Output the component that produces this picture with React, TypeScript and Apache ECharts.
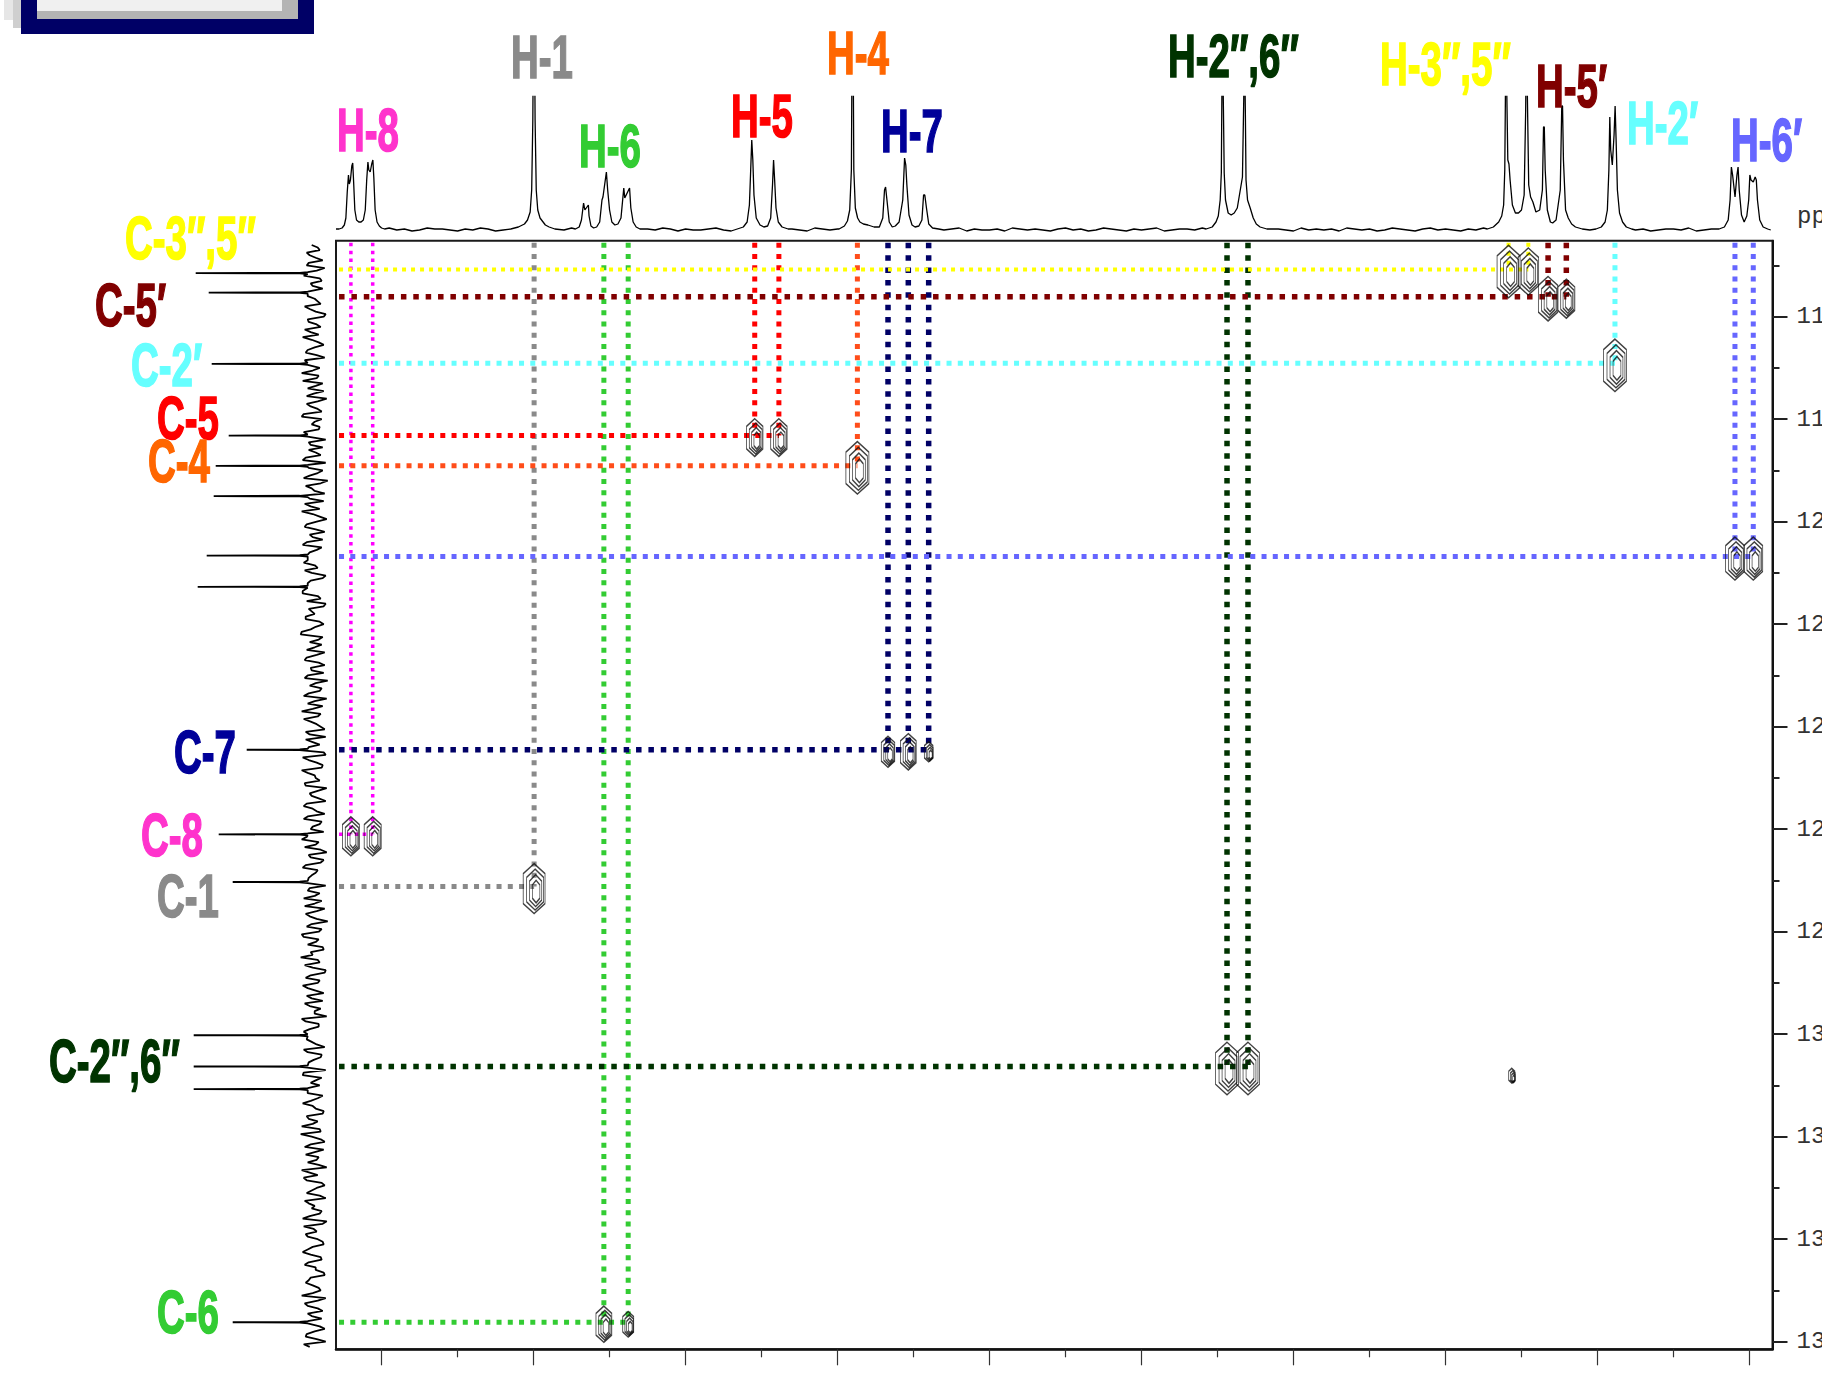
import React, { useEffect, useRef } from "react";
import * as echarts from "echarts";

// ---- axis ranges (ppm) ----
const H_LEFT = 8.06;
const H_RIGHT = 6.1697;
const C_TOP = 114.517;
const C_BOTTOM = 136.148;

// ---- tick values ----
const hMajorTicks = [8.0, 7.8, 7.6, 7.4, 7.2, 7.0, 6.8, 6.6, 6.4, 6.2];
const hMinorTicks = [7.9, 7.7, 7.5, 7.3, 7.1, 6.9, 6.7, 6.5, 6.3];
const cMajorTicks = [116, 118, 120, 122, 124, 126, 128, 130, 132, 134, 136];
const cMinorTicks = [115, 117, 119, 121, 123, 125, 127, 129, 131, 133, 135];

// ---- assignments ----
const protonLabels = ["H-8", "H-1", "H-6", "H-5", "H-4", "H-7", "H-2″,6″", "H-3″,5″", "H-5′", "H-2′", "H-6′"];
const carbonLabels = ["C-8", "C-1", "C-6", "C-5", "C-4", "C-7", "C-2″,6″", "C-3″,5″", "C-5′", "C-2′", ""];
const protonShifts = [
  [8.0404, 8.0117],
  [7.7993],
  [7.7075, 7.6755],
  [7.509, 7.4772],
  [7.3739],
  [7.3336, 7.3069, 7.2801],
  [6.8875, 6.8599],
  [6.517, 6.491],
  [6.465, 6.441],
  [6.377],
  [6.2191, 6.195],
];
const carbonShifts = [126.1, 127.12, 135.62, 118.32, 118.91, 124.45, 130.63, 115.08, 115.61, 116.91, 120.68];
const crossStrength = [[2, 2], [2.8], [1.8, 1], [1.9, 1.9], [3], [1.4, 1.8, 0.6], [3, 3], [3, 2.6], [2.4, 2], [3], [2.3, 2.3]];
const extraCrossPeaks = [[6.5128, 130.77, 0.2]];

// ---- 1H projection (top), [ppm, intensity] ----
const topH8 = [[8.056,1],[8.052,2],[8.049,5],[8.047,12],[8.0452,38],[8.0436,55],[8.0425,46],[8.041,50],[8.0392,64],[8.038,67],[8.0368,48],[8.0352,20],[8.033,10],[8.03,8],[8.027,8],[8.024,10],[8.0215,20],[8.0196,50],[8.018,68],[8.0168,60],[8.015,58],[8.013,66],[8.0115,70],[8.0102,52],[8.0085,20],[8.006,8],[8.003,4],[8.0,2],[7.996,1]];
const topH1 = [[7.83,1],[7.82,3],[7.812,6],[7.808,10],[7.8045,18],[7.8025,40],[7.801,110],[7.8002,200],[7.7988,200],[7.798,110],[7.7965,40],[7.7945,20],[7.7915,12],[7.7885,9],[7.7845,5],[7.7795,3],[7.772,1]];
const topH6 = [[7.745,1],[7.74,3],[7.737,10],[7.7342,27],[7.7325,20],[7.7279,25],[7.727,14],[7.7245,4],[7.721,2],[7.717,3],[7.713,8],[7.71,30],[7.7087,33],[7.7042,58],[7.7025,40],[7.7,20],[7.697,8],[7.693,5],[7.689,6],[7.685,12],[7.6813,42],[7.68,32],[7.6737,42],[7.672,22],[7.669,8],[7.665,3],[7.66,1]];
const topH5 = [[7.532,1],[7.524,3],[7.519,8],[7.516,25],[7.5143,60],[7.5129,90],[7.5115,70],[7.51,35],[7.507,12],[7.502,5],[7.497,3],[7.492,4],[7.488,12],[7.4856,45],[7.4842,70],[7.4828,50],[7.481,22],[7.478,8],[7.473,3],[7.465,1]];
const topH4H7 = [[7.398,1],[7.391,4],[7.387,9],[7.384,20],[7.3818,60],[7.3808,200],[7.3796,200],[7.3786,60],[7.3766,22],[7.3736,12],[7.3706,8],[7.366,6],[7.36,5],[7.352,3],[7.345,3],[7.3405,12],[7.3382,40],[7.3368,43],[7.335,30],[7.332,8],[7.328,3],[7.324,4],[7.319,8],[7.3142,30],[7.3118,72],[7.3102,65],[7.3088,45],[7.306,15],[7.302,5],[7.298,3],[7.293,4],[7.289,10],[7.2868,35],[7.2852,35],[7.283,22],[7.28,6],[7.275,2],[7.267,1]];
const topH26pp = [[6.915,1],[6.907,3],[6.902,8],[6.899,14],[6.8965,30],[6.895,57],[6.8943,130],[6.8937,200],[6.893,200],[6.8922,120],[6.8912,57],[6.8895,30],[6.886,17],[6.882,15],[6.878,17],[6.874,22],[6.8672,53],[6.8655,130],[6.8648,200],[6.8641,200],[6.8634,120],[6.8625,50],[6.8605,30],[6.857,22],[6.853,12],[6.849,6],[6.844,3],[6.835,1]];
const topH35ppH5p = [[6.545,1],[6.537,3],[6.53,8],[6.526,14],[6.5235,25],[6.522,60],[6.5212,130],[6.5206,200],[6.5198,200],[6.519,120],[6.518,70],[6.5165,66],[6.515,50],[6.512,25],[6.508,17],[6.504,17],[6.5,20],[6.4965,35],[6.4945,120],[6.4935,200],[6.4928,200],[6.4918,110],[6.4905,45],[6.488,33],[6.485,28],[6.481,18],[6.476,20],[6.4725,40],[6.471,103],[6.47,103],[6.4688,60],[6.466,20],[6.462,8],[6.459,7],[6.4545,10],[6.449,40],[6.447,124],[6.446,124],[6.4448,70],[6.442,20],[6.4385,12],[6.434,6],[6.429,3],[6.42,1]];
const topH2p = [[6.402,1],[6.395,3],[6.39,8],[6.387,20],[6.385,60],[6.3838,113],[6.3826,80],[6.3805,65],[6.3782,95],[6.3768,124],[6.3755,90],[6.3738,40],[6.371,17],[6.367,8],[6.362,3],[6.355,1]];
const topH6p = [[6.24,1],[6.233,3],[6.228,10],[6.2255,30],[6.2238,63],[6.2222,55],[6.219,33],[6.2165,55],[6.215,63],[6.2135,40],[6.2105,15],[6.207,8],[6.2035,14],[6.201,30],[6.1995,55],[6.198,50],[6.195,48],[6.1925,53],[6.191,50],[6.1895,30],[6.1865,10],[6.182,3],[6.176,1],[6.172,0]];
const topBaseline = [
  1,0,2,1,0,-1,1,2,0,1,-1,0,2,1,1,0,-1,1,0,2,
  1,-1,0,1,2,0,1,-1,1,0,0,2,1,-1,0,1,1,0,2,-1,
  0,1,0,2,1,-1,1,0,0,1,2,0,-1,1,0,1,-1,2,0,1,
  1,0,-1,2,1,0,1,-1,0,2,0,1,1,-1,0,1,2,0,-1,1,
  0,1,2,-1,1,0,0,1,-1,2,1,0,1,0,-1,1,2,0,1,-1,
  0,2,1,0,-1,1,0,1,2,-1,0,1,1,0,2,-1,1,0,0,1,
  2,-1,0,1,1,0,-1,2,0,1,0,1,-1,2,1,0,1,-1,0,2,
  1,0,-1,1,2,0,1,0,-1,1,0,2,1,-1,0,1,1,0,2,-1,
  0,1,-1,2,1,0,1,0,-1,1,2,0,1,-1,0,1,1,0,2,-1,
  0,1,2,-1,1,0,1,-1,0,1,
];
const topBaselineStart = 8.06;
const topBaselineStep = 0.01;

// ---- 13C projection (left) ----
const carbonNoise = [
  2,-6,4,-9,7,-3,10,-8,1,-12,6,-4,9,-2,-10,5,-7,3,11,-5,
  -1,8,-11,4,-6,12,-3,-9,6,0,-13,7,-4,10,-8,2,-5,9,-12,3,
  5,-7,11,-2,-9,4,-14,8,-1,6,-10,3,12,-6,-3,9,-11,1,7,-8,
  4,-13,10,-4,2,-9,6,-2,11,-7,-12,5,-1,8,-10,3,13,-5,-8,7,
  -3,9,-11,2,6,-14,4,-6,10,-1,-9,12,-4,3,-7,8,-12,1,5,-10,
  11,-3,-8,6,-2,9,-13,4,-5,7,1,-11,10,-6,3,-9,12,-2,-7,5,
  -10,8,-4,2,11,-12,6,-1,-8,9,-3,4,-14,7,-5,10,-2,-9,3,13,
  -6,1,-11,8,-4,6,-10,2,9,-7,-1,12,-5,4,-13,7,-3,10,-8,0,
  5,-12,11,-2,-6,8,-9,3,1,-10,7,-4,12,-7,2,-11,9,-1,-5,6,
  -13,4,10,-8,-3,7,-12,5,2,-6,11,-9,0,8,-4,-10,6,3,-8,9,
  -2,-11,5,1,-7,12,-4,6,-9,2,10,-6,-1,8,-12,4,
];
const carbonNoiseMid = [
  -4,7,-2,5,-11,8,-6,3,-9,10,-1,-7,4,-12,6,-3,9,-5,2,-10,
  6,-3,9,-8,1,-5,11,-2,-10,7,-4,3,-8,12,-1,-6,10,-3,5,-9,
  -2,8,-12,5,-4,10,-7,2,-11,4,9,-6,1,-13,7,-2,4,-9,11,-3,
  -8,6,-1,9,-12,3,-5,11,-4,7,-10,2,8,-6,-2,12,-9,4,-1,-11,
  7,-5,3,-10,9,-2,-8,5,-13,6,1,-7,10,-3,-11,4,8,-6,2,-12,
  5,-9,12,-1,-6,8,-4,2,-12,10,-3,6,-8,1,-10,7,-5,9,-13,3,
  -7,11,-2,5,-9,4,-6,10,-1,-11,8,-3,2,-8,12,-5,6,-10,1,-4,
  9,-12,3,-6,11,-2,7,-9,4,-1,-13,8,-5,10,-3,2,-11,6,-7,5,
  -1,10,-8,3,-12,6,-4,11,-2,-9,5,1,-6,13,-7,3,-10,8,-3,-5,
  12,-4,7,-11,2,-6,9,-1,-8,4,-13,10,-3,6,-9,1,11,-7,5,-2,
  -10,3,8,-5,1,-12,9,-4,6,-8,2,-11,7,-3,10,
];
const carbonNoiseStart = 114.6;
const carbonNoiseMidStart = 114.65;
const carbonNoiseStep = 0.1;
const carbonSpikes = [[115.15,118],[115.53,105],[116.92,102],[118.32,85],[118.91,98],[119.5,100],[120.66,107],[121.27,116],[124.45,67],[126.1,95],[127.03,81],[130.02,120],[130.63,120],[131.07,120],[135.62,81]];

// ---- styles / layout ----
const labelColors = ["#ff33cc", "#8a8a8a", "#33cc33", "#ff0000", "#ff6600", "#000099", "#003300", "#ffff00", "#800000", "#66ffff", "#6666ff"];
const lineColors = ["#ff00ff", "#8a8a8a", "#33cc33", "#ff0000", "#ff4d1a", "#000066", "#003300", "#ffff00", "#800000", "#66ffff", "#6666ff"];
const lineWidths = [3.5, 5, 5, 5, 5, 5.5, 5.5, 4, 5.5, 5, 5];
const protonLabelPos = [[337,129],[511,56],[579,145],[731,115],[827,52],[881,130],[1168,55],[1380,63],[1536,85],[1627,122],[1731,139]];
const carbonLabelPos = [[141,834],[157,895],[157,1311],[157,417],[148,460],[174,751],[49,1060],[125,237],[95,304],[131,364],[0,0]];

const HEX = "path://M5,0L10,4L10,16L5,20L0,16L0,4Z";
const LABEL_FONT = 'bold 62px "Liberation Sans", Arial, sans-serif';

export default function App() {
  const ref = useRef<HTMLDivElement>(null);

  useEffect(() => {
    document.body.style.margin = "0";
    const chart = echarts.init(ref.current!, null, { renderer: "svg" });

    // top trace
    const groups = [topH8, topH1, topH6, topH5, topH4H7, topH26pp, topH35ppH5p, topH2p, topH6p];
    const ranges = groups.map((g) => [Math.min(...g.map((p) => p[0])), Math.max(...g.map((p) => p[0]))]);
    const topTrace: number[][] = [];
    topBaseline.forEach((n, i) => {
      const v = topBaselineStart - i * topBaselineStep;
      if (!ranges.some(([a, b]) => v >= a - 0.002 && v <= b + 0.002)) topTrace.push([v, n]);
    });
    groups.forEach((g) => g.forEach((p) => topTrace.push(p)));
    topTrace.sort((a, b) => b[0] - a[0]);

    // left trace
    const leftTrace: number[][] = [];
    const addNoise = (arr: number[], start: number) =>
      arr.forEach((n, i) => {
        const c = start + i * carbonNoiseStep;
        if (!carbonSpikes.some(([s]) => Math.abs(c - s) < 0.04)) leftTrace.push([n, c]);
      });
    addNoise(carbonNoise, carbonNoiseStart);
    addNoise(carbonNoiseMid, carbonNoiseMidStart);
    carbonSpikes.forEach(([s, h]) => {
      leftTrace.push([6, s - 0.02], [14, s - 0.006], [h, s], [14, s + 0.006], [6, s + 0.02]);
    });
    leftTrace.sort((a, b) => a[1] - b[1]);

    // dotted correlation lines
    const mkLine = (data: number[][], color: string, width: number) => ({
      type: "line",
      xAxisIndex: 0,
      yAxisIndex: 0,
      data,
      symbol: "none",
      silent: true,
      z: 3,
      lineStyle: { color, width, type: [width, width * 1.25] },
    });
    const dotted: any[] = [];
    protonShifts.forEach((hs, g) => {
      const c = carbonShifts[g];
      hs.forEach((h) => dotted.push(mkLine([[h, C_TOP + 0.04], [h, c]], lineColors[g], lineWidths[g])));
      dotted.push(mkLine([[H_LEFT - 0.004, c], [Math.min(...hs), c]], lineColors[g], lineWidths[g]));
    });

    // cross peaks (contours)
    const peaks: number[][] = [];
    protonShifts.forEach((hs, g) => hs.forEach((h, i) => peaks.push([h, carbonShifts[g], crossStrength[g][i]])));
    extraCrossPeaks.forEach((p) => peaks.push(p));
    const levels: [number, number, number[]][] = [
      [1, 1, [0, 2]],
      [0.78, 0.82, [1, 3]],
      [0.56, 0.64, [1.5, 4]],
      [0.34, 0.45, [2, 5]],
    ];
    const contours = levels.map(([fx, fy, off]) => ({
      type: "scatter",
      xAxisIndex: 0,
      yAxisIndex: 0,
      data: peaks,
      symbol: HEX,
      symbolSize: (v: number[]) => [(5 + 6 * v[2]) * fx, (12 + 13.5 * v[2]) * fy],
      symbolOffset: off,
      silent: true,
      z: 4,
      itemStyle: { color: "rgba(0,0,0,0)", borderColor: "#111", borderWidth: 1.2 },
    }));

    // graphics: labels + corner box
    const graphics: any[] = [
      { type: "rect", shape: { x: 4, y: 0, width: 9, height: 20 }, style: { fill: "#e6e6e6" } },
      { type: "rect", shape: { x: 13, y: 0, width: 8, height: 28 }, style: { fill: "#cfcfcf" } },
      { type: "rect", shape: { x: 21, y: 0, width: 293, height: 34 }, style: { fill: "#000066" } },
      { type: "rect", shape: { x: 37, y: 0, width: 261, height: 19 }, style: { fill: "#b4b4b4" } },
      { type: "rect", shape: { x: 37, y: 0, width: 245, height: 11 }, style: { fill: "#f0f0f0" } },
      {
        type: "text", x: 1797, y: 216,
        style: { text: "ppm", fill: "#333", font: '24px "Liberation Mono", monospace', textAlign: "left", textVerticalAlign: "middle", align: "left", verticalAlign: "middle" },
      },
    ];
    const mkLabel = (text: string, pos: number[], color: string) => ({
      type: "text",
      x: pos[0],
      y: pos[1],
      scaleX: 0.62,
      z: 10,
      style: {
        text, fill: color, stroke: color, lineWidth: 1.6, font: LABEL_FONT,
        textAlign: "left", textVerticalAlign: "middle", align: "left", verticalAlign: "middle",
      },
    });
    protonLabels.forEach((t, i) => graphics.push(mkLabel(t, protonLabelPos[i], labelColors[i])));
    carbonLabels.forEach((t, i) => { if (t) graphics.push(mkLabel(t, carbonLabelPos[i], labelColors[i])); });

    const option: any = {
      animation: false,
      backgroundColor: "#ffffff",
      grid: [
        { left: 336, top: 240.7, width: 1436.5, height: 1108.6, show: true, borderColor: "#1a1a1a", borderWidth: 2, backgroundColor: "transparent", containLabel: false, outerBoundsMode: "none" },
        { left: 336, top: 96.5, width: 1436.5, height: 139.5, containLabel: false, outerBoundsMode: "none" },
        { left: 186, top: 240.7, width: 150, height: 1108.6, containLabel: false, outerBoundsMode: "none" },
      ],
      xAxis: [
        {
          gridIndex: 0, type: "value", min: H_RIGHT, max: H_LEFT, inverse: true, position: "bottom",
          axisLine: { show: true, onZero: false, lineStyle: { color: "#111", width: 2.5 } },
          axisTick: { show: true, customValues: hMajorTicks, length: 16, lineStyle: { color: "#333", width: 1.2 } },
          axisLabel: { show: false }, splitLine: { show: false },
        },
        {
          gridIndex: 0, type: "value", min: H_RIGHT, max: H_LEFT, inverse: true, position: "bottom",
          axisLine: { show: false, onZero: false },
          axisTick: { show: true, customValues: hMinorTicks, length: 8, lineStyle: { color: "#333", width: 1.2 } },
          axisLabel: { show: false }, splitLine: { show: false },
        },
        { gridIndex: 1, type: "value", min: H_RIGHT, max: H_LEFT, inverse: true, show: false },
        { gridIndex: 2, type: "value", min: -22.3, max: 127.7, inverse: true, show: false },
      ],
      yAxis: [
        {
          gridIndex: 0, type: "value", min: C_TOP, max: C_BOTTOM, inverse: true, position: "right",
          axisLine: { show: true, onZero: false, lineStyle: { color: "#111", width: 2 } },
          axisTick: { show: true, customValues: cMajorTicks, length: 15, lineStyle: { color: "#222", width: 2 } },
          axisLabel: { show: true, customValues: cMajorTicks, margin: 24, color: "#333", fontSize: 24, fontFamily: '"Liberation Mono", monospace' },
          splitLine: { show: false },
        },
        {
          gridIndex: 0, type: "value", min: C_TOP, max: C_BOTTOM, inverse: true, position: "right",
          axisLine: { show: false, onZero: false },
          axisTick: { show: true, customValues: cMinorTicks, length: 7, lineStyle: { color: "#222", width: 2 } },
          axisLabel: { show: false }, splitLine: { show: false },
        },
        { gridIndex: 1, type: "value", min: -6, max: 133.5, show: false },
        { gridIndex: 2, type: "value", min: C_TOP, max: C_BOTTOM, inverse: true, show: false },
      ],
      graphic: { elements: graphics },
      series: [
        {
          type: "line", xAxisIndex: 2, yAxisIndex: 2, data: topTrace, symbol: "none", silent: true, clip: true,
          lineStyle: { color: "#000", width: 1.3 },
        },
        {
          type: "line", xAxisIndex: 3, yAxisIndex: 3, data: leftTrace, symbol: "none", silent: true, clip: false,
          lineStyle: { color: "#000", width: 1.8 },
        },
        ...dotted,
        ...contours,
      ],
    };
    chart.setOption(option);
    return () => chart.dispose();
  }, []);

  return (
    <div
      ref={ref}
      style={{ position: "fixed", left: 0, top: 0, width: 1822, height: 1379, overflow: "hidden", background: "#fff" }}
    />
  );
}
